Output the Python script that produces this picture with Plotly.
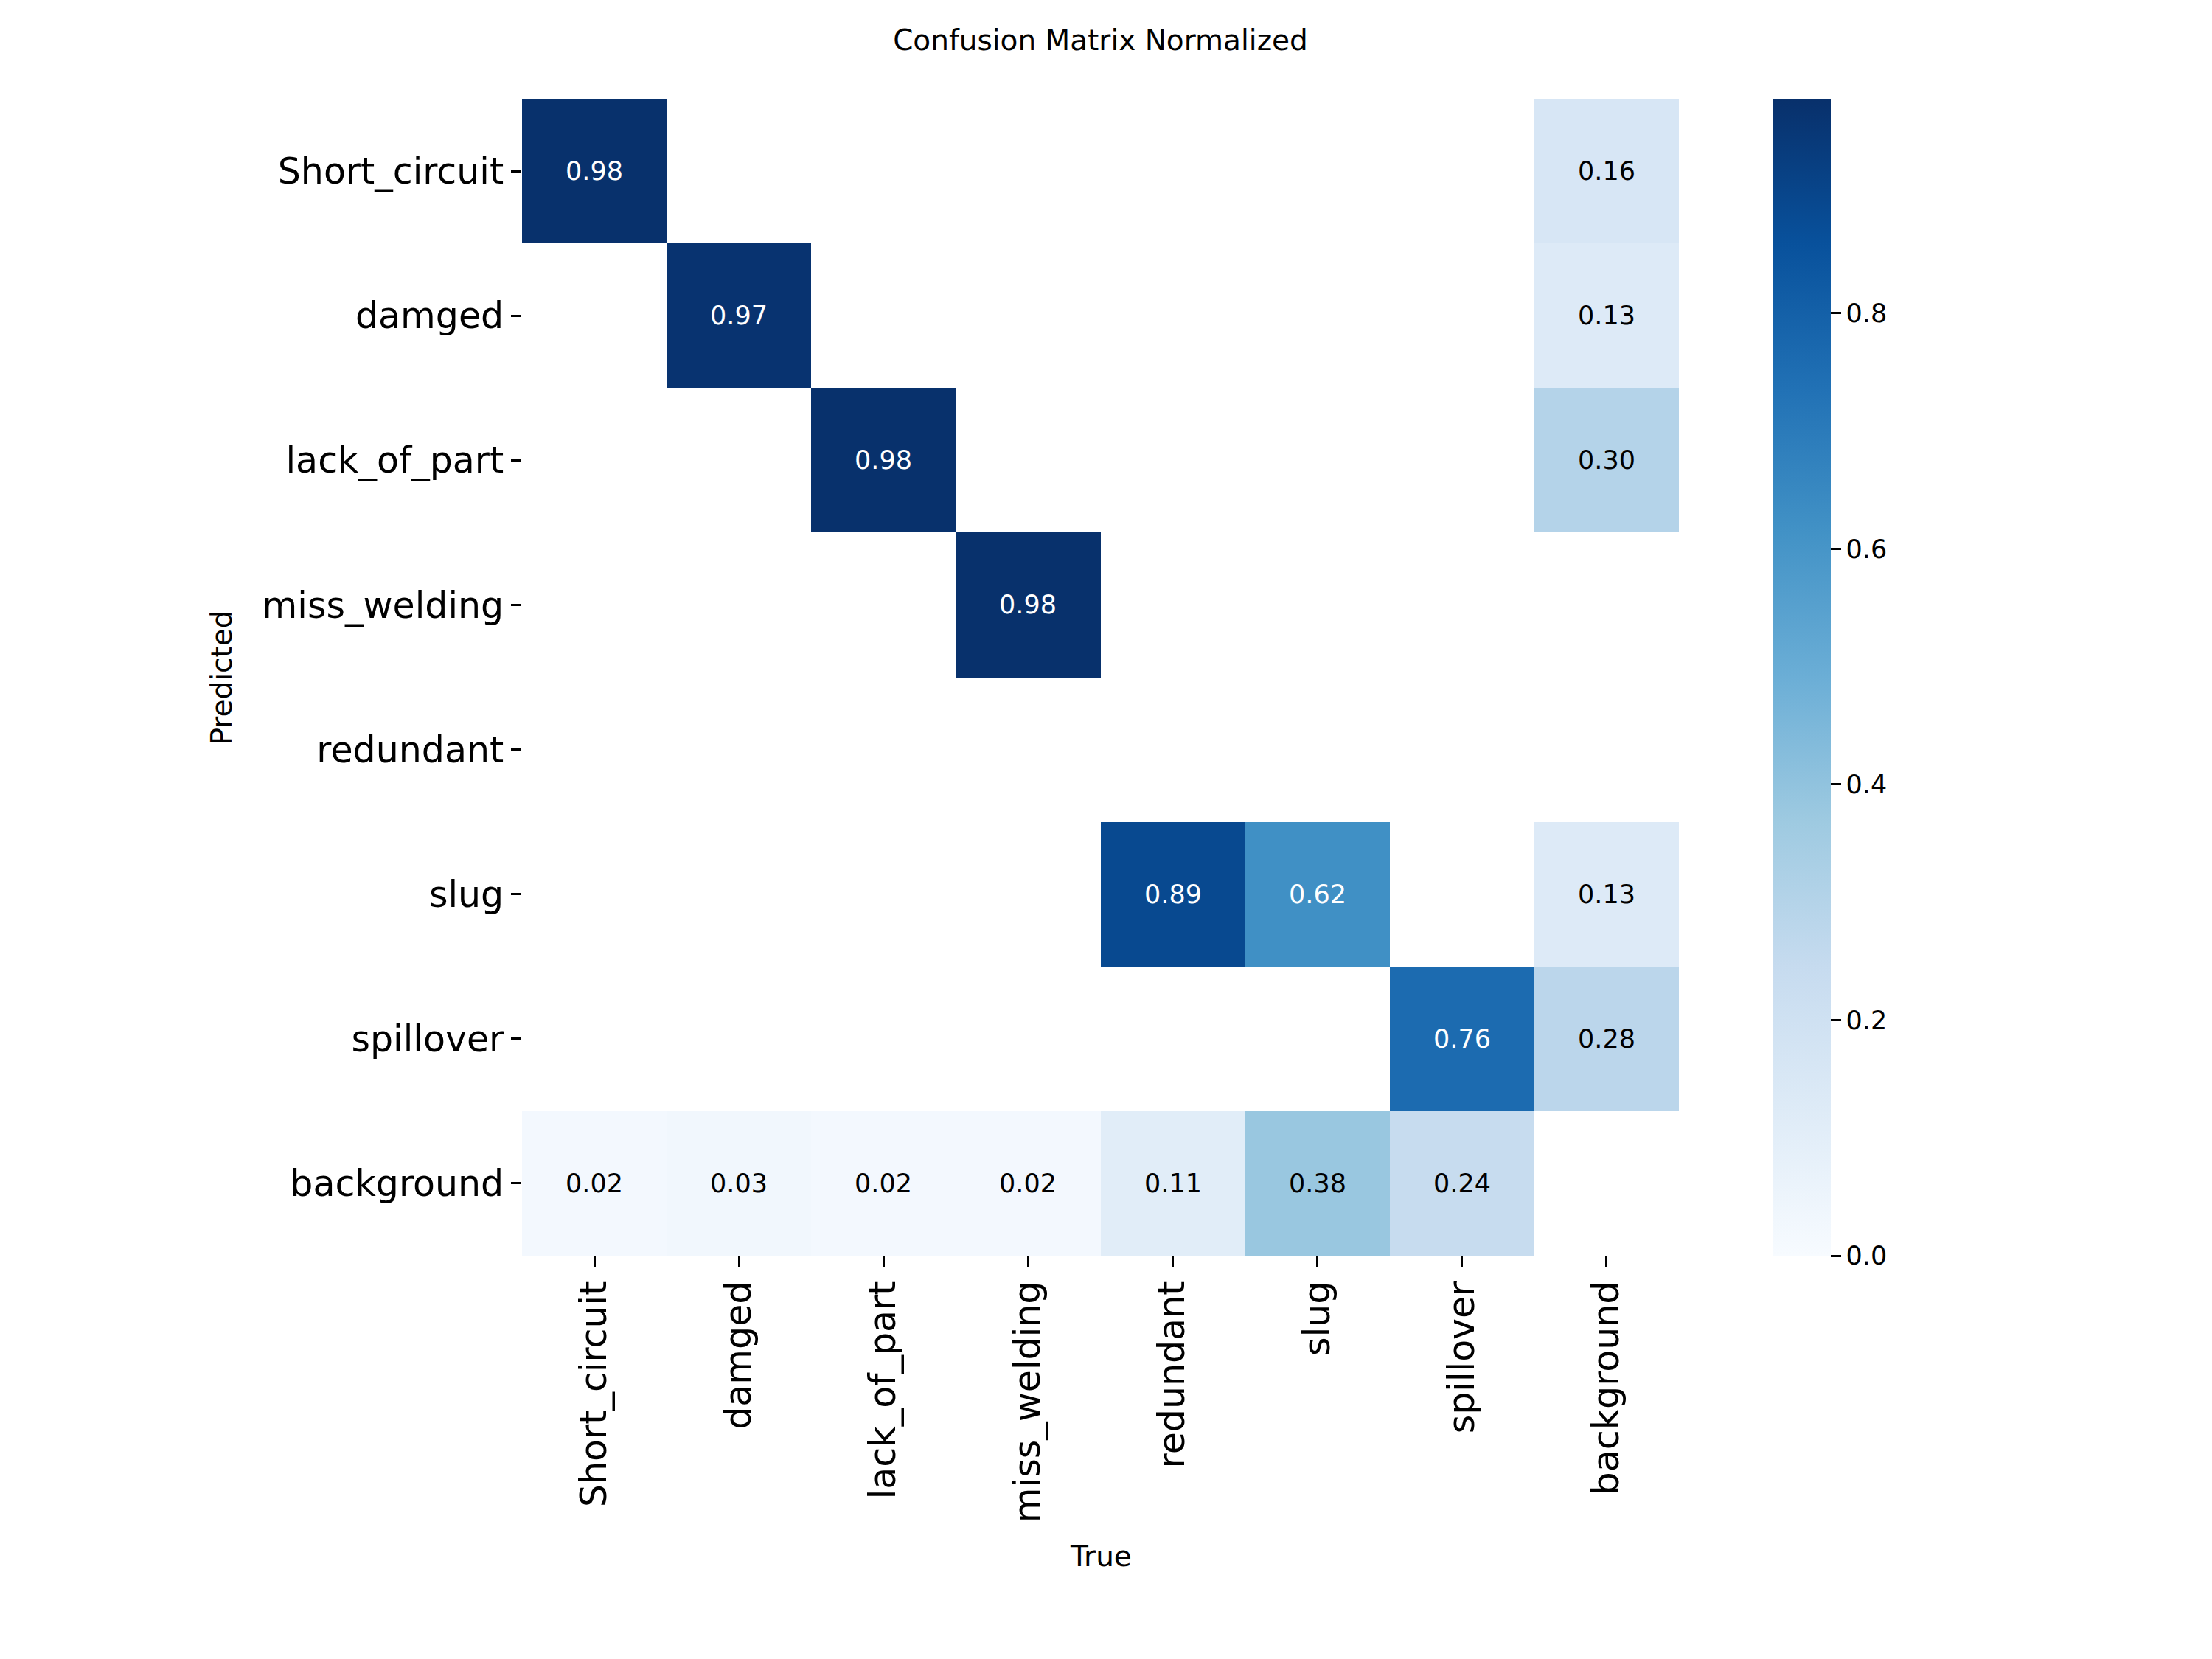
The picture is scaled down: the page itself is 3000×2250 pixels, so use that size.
import numpy as np
import plotly.graph_objects as go

true_labels = ["Short_circuit", "damged", "lack_of_part", "miss_welding",
               "redundant", "slug", "spillover", "background"]
pred_labels = ["Short_circuit", "damged", "lack_of_part", "miss_welding",
               "redundant", "slug", "spillover", "background"]

nan = None
row_short_circuit = [0.98, nan, nan, nan, nan, nan, nan, 0.16]
row_damged = [nan, 0.97, nan, nan, nan, nan, nan, 0.13]
row_lack_of_part = [nan, nan, 0.98, nan, nan, nan, nan, 0.30]
row_miss_welding = [nan, nan, nan, 0.98, nan, nan, nan, nan]
row_redundant = [nan, nan, nan, nan, nan, nan, nan, nan]
row_slug = [nan, nan, nan, nan, 0.89, 0.62, nan, 0.13]
row_spillover = [nan, nan, nan, nan, nan, nan, 0.76, 0.28]
row_background = [0.02, 0.03, 0.02, 0.02, 0.11, 0.38, 0.24, nan]

matrix = [row_short_circuit, row_damged, row_lack_of_part, row_miss_welding,
          row_redundant, row_slug, row_spillover, row_background]

colorbar_ticks = [0.0, 0.2, 0.4, 0.6, 0.8]
zmax = 0.982

blues = [
    [0.0, "#f7fbff"], [0.125, "#deebf7"], [0.25, "#c6dbef"], [0.375, "#9ecae1"],
    [0.5, "#6baed6"], [0.625, "#4292c6"], [0.75, "#2171b5"], [0.875, "#08519c"],
    [1.0, "#08306b"],
]

FONT = "DejaVu Sans"
W, H = 3000, 2250
L, R, T, B = 708, 2277, 134, 1703
pw, ph = R - L, B - T

z = np.array([[np.nan if v is None else v for v in row] for row in matrix], dtype=float)

fig = go.Figure(go.Heatmap(
    z=z, x=true_labels, y=pred_labels,
    colorscale=blues, zmin=0, zmax=zmax,
    hoverongaps=False,
    colorbar=dict(
        x=(2404 - L) / pw, xanchor="left", xref="paper",
        y=0.5, yanchor="middle", len=1.0, lenmode="fraction",
        xpad=0, ypad=0,
        thickness=79, thicknessmode="pixels",
        outlinewidth=0,
        tickvals=colorbar_ticks, ticktext=[f"{t:.1f}" for t in colorbar_ticks],
        ticks="outside", ticklen=14, tickwidth=3, tickcolor="black",
        tickfont=dict(family=FONT, size=35, color="black"),
    ),
))

annotations = []
for i, p in enumerate(pred_labels):
    for j, t in enumerate(true_labels):
        v = z[i, j]
        if np.isnan(v):
            continue
        annotations.append(dict(
            x=t, y=p, xref="x", yref="y", text=f"{v:.2f}", showarrow=False,
            font=dict(family=FONT, size=35, color="white" if v > 0.5 else "black"),
        ))

annotations.append(dict(
    x=0.5, y=(B - 2110) / ph, xref="paper", yref="paper", text="True",
    showarrow=False, xanchor="center", yanchor="middle",
    font=dict(family=FONT, size=39, color="black"),
))
annotations.append(dict(
    x=(300 - L) / pw, y=0.5, xref="paper", yref="paper", text="Predicted",
    showarrow=False, xanchor="center", yanchor="middle", textangle=-90,
    font=dict(family=FONT, size=39, color="black"),
))

fig.update_layout(
    width=W, height=H,
    margin=dict(l=L, r=W - R, t=T, b=H - B, pad=0),
    paper_bgcolor="white", plot_bgcolor="white",
    title=dict(text="Confusion Matrix Normalized", x=0.5, xref="paper",
               xanchor="center", y=1 - 54 / H, yref="container", yanchor="middle",
               font=dict(family=FONT, size=39, color="black")),
    annotations=annotations,
    font=dict(family=FONT, color="black"),
)

fig.update_xaxes(
    type="category", categoryorder="array", categoryarray=true_labels,
    tickangle=-90, ticks="outside", ticklen=14, tickwidth=3, tickcolor="black",
    tickfont=dict(family=FONT, size=49, color="black"),
    showgrid=False, zeroline=False, showline=False,
)
fig.update_yaxes(
    type="category", categoryorder="array", categoryarray=pred_labels,
    autorange="reversed",
    ticks="outside", ticklen=14, tickwidth=3, tickcolor="black",
    tickfont=dict(family=FONT, size=49, color="black"),
    showgrid=False, zeroline=False, showline=False,
)

fig.write_html("out.html")
